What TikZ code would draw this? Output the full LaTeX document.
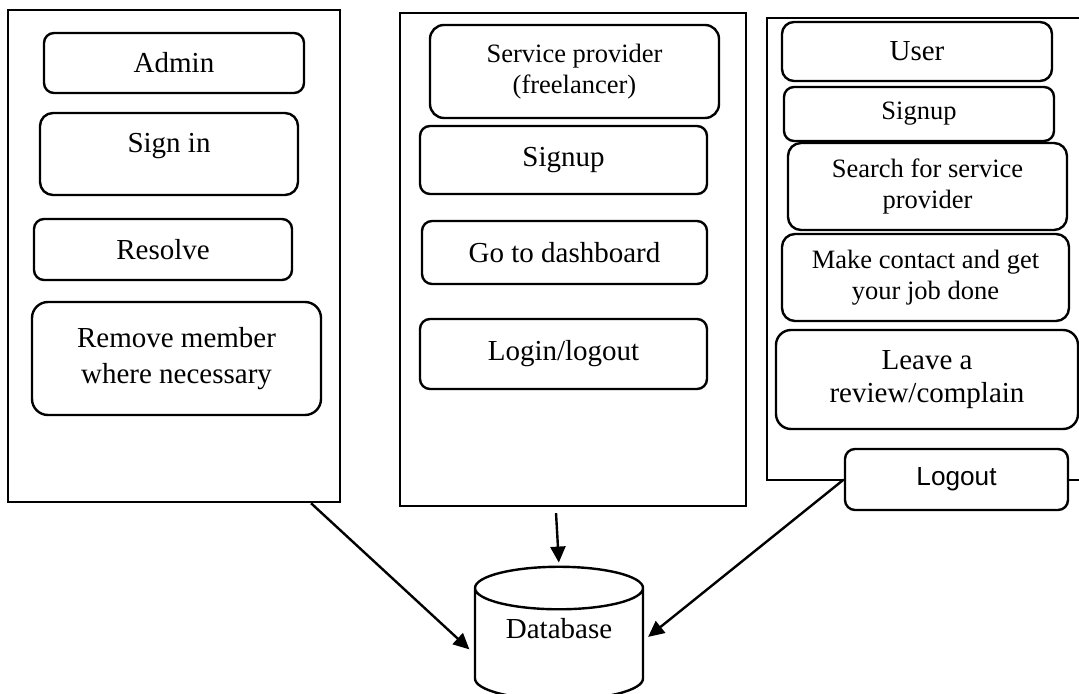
\documentclass[tikz,border=0pt]{standalone}
\usepackage{fontspec}
\setmainfont{Liberation Serif}
\newfontfamily\logoutfont{Liberation Sans}
\usepackage{tikz}
\usetikzlibrary{positioning,arrows.meta,shapes.geometric}

\begin{document}
\begin{tikzpicture}[
    x=0.5pt, y=-0.5pt,
    panel/.style={rectangle, draw=black, line width=1.2pt, inner sep=0pt},
    action/.style={rectangle, rounded corners=5pt, draw=black, line width=1.2pt, fill=white, align=center, inner sep=0pt, font=\fontsize{14.5}{16.7}\selectfont},
    smallaction/.style={action, font=\fontsize{13.25}{15.5}\selectfont},
    store/.style={cylinder, shape border rotate=90, aspect=0.40, draw=black, line width=1.2pt, align=center, inner sep=0pt, font=\fontsize{14.5}{16.7}\selectfont},
    arrow/.style={-{Triangle[length=8pt, width=7.5pt]}, line width=1.2pt},
]
\useasboundingbox (0,0) rectangle (1079,694);

% --- PANEL 1: ADMIN ---
\node[panel, minimum width=166pt, minimum height=246pt] (adminpanel) at (174,256) {};
\node[action, minimum width=130pt, minimum height=30pt] (admin) at (174,63) {Admin};
\node[action, rounded corners=6.5pt, minimum width=129pt, minimum height=41pt, text depth=11pt] (signin) at (169,154) {Sign in};
\node[action, minimum width=129pt, minimum height=30.5pt] (resolve) at (163,249.5) {Resolve};
\node[action, rounded corners=8pt, minimum width=144.5pt, minimum height=56.5pt, font=\fontsize{14.5}{18.3}\selectfont] (remove) at (176.5,358.5) {Remove member\\where necessary};

% --- PANEL 2: SERVICE PROVIDER ---
\node[panel, minimum width=173pt, minimum height=246.5pt] (providerpanel) at (573,259.5) {};
\node[smallaction, rounded corners=7pt, minimum width=144.5pt, minimum height=46.5pt] (provider) at (574.5,71.5) {Service provider\\(freelancer)};
\node[action, minimum width=143.5pt, minimum height=34pt] (psignup) at (563.5,160) {Signup};
\node[action, minimum width=142.5pt, minimum height=31.5pt] (dashboard) at (564.5,252.5) {Go to dashboard};
\node[action, minimum width=143.5pt, minimum height=35pt] (login) at (563.5,354) {Login/logout};

% --- PANEL 3: USER ---
\node[panel, minimum width=164pt, minimum height=231pt] (userpanel) at (931,249) {};
\node[action, rounded corners=6pt, minimum width=135pt, minimum height=29.5pt] (user) at (917,51.5) {User};
\node[smallaction, minimum width=135pt, minimum height=27pt] (usignup) at (919,114) {Signup};
\node[smallaction, rounded corners=6.5pt, minimum width=139.5pt, minimum height=43.5pt] (search) at (927.5,186.5) {Search for service\\provider};
\node[smallaction, rounded corners=6.5pt, minimum width=143.5pt, minimum height=43.5pt] (contact) at (925.5,277.5) {Make contact and get\\your job done};
\node[action, rounded corners=7.5pt, minimum width=151pt, minimum height=49.5pt] (review) at (927,379.5) {Leave a\\review/complain};
\node[action, minimum width=111.5pt, minimum height=30.5pt, font=\logoutfont\fontsize{13.1}{15}\selectfont] (logout) at (956.5,479.5) {Logout};

% --- DATABASE ---
\node[store, minimum width=84pt, minimum height=66.5pt, text depth=16pt] (db) at (559,644.5) {Database};

% --- ARROWS ---
\draw[arrow, shorten >=3pt] (adminpanel.-61) -- (db.186);
\draw[arrow, shorten <=3pt, shorten >=1.5pt] (providerpanel.-94) -- (db.north);
\draw[arrow, shorten >=2.5pt] (logout.west) -- (db.3);

\end{tikzpicture}
\end{document}
